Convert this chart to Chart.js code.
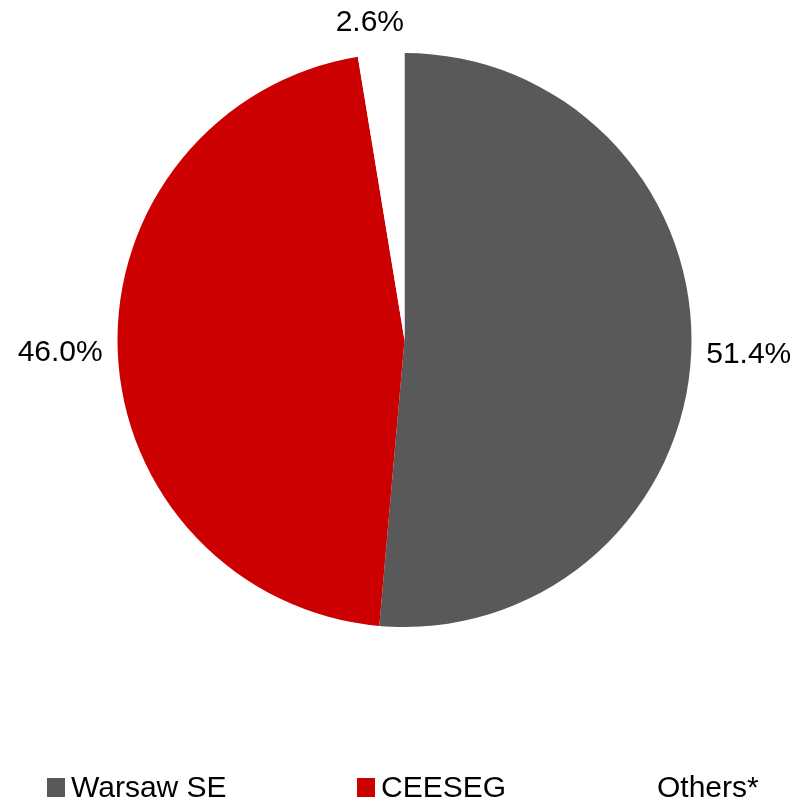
<!DOCTYPE html>
<html>
<head>
<meta charset="utf-8">
<script src="https://cdn.jsdelivr.net/npm/chart.js@4"></script>
<style>
html,body{margin:0;padding:0;background:#fff;}
#wrap{width:796px;height:802px;}
</style>
</head>
<body>
<div id="wrap"><canvas id="c" width="796" height="802"></canvas></div>
<script>
const categories = ["Warsaw SE", "CEESEG", "Others*"];
const shares = [51.4, 46.0, 2.6];
const valueLabels = ["51.4%", "46.0%", "2.6%"];
const colors = ["#595959", "#CC0000", "#FFFFFF"];

const FONT = "Liberation Sans, Arial, sans-serif";

const outLabels = {
  id: "outLabels",
  afterDatasetsDraw(chart) {
    const ctx = chart.ctx;
    const meta = chart.getDatasetMeta(0);
    ctx.save();
    ctx.font = "30px " + FONT;
    ctx.fillStyle = "#000";
    ctx.textBaseline = "middle";
    ctx.textAlign = "center";
    meta.data.forEach((arc, i) => {
      const p = arc.getProps(["x", "y", "startAngle", "endAngle", "outerRadius"], true);
      const mid = (p.startAngle + p.endAngle) / 2;
      const dx = Math.cos(mid), dy = Math.sin(mid);
      const R = p.outerRadius + 15;
      const ax = p.x + dx * R, ay = p.y + dy * R;
      const hw = ctx.measureText(valueLabels[i]).width / 2;
      const k = Math.max(-1, Math.min(1, dx * 3.6));
      ctx.fillText(valueLabels[i], ax + hw * k, ay + 17 * dy + 1);
    });
    ctx.restore();
  }
};

const bottomLegend = {
  id: "bottomLegend",
  afterDraw(chart) {
    const ctx = chart.ctx;
    ctx.save();
    ctx.font = "30px " + FONT;
    ctx.textBaseline = "alphabetic";
    ctx.textAlign = "left";
    const xs = [47, 357, 633];
    categories.forEach((c, i) => {
      ctx.fillStyle = colors[i];
      ctx.fillRect(xs[i], 778, 18, 19);
      ctx.fillStyle = "#000";
      ctx.fillText(c, xs[i] + 24, 797);
    });
    ctx.restore();
  }
};

new Chart(document.getElementById("c"), {
  type: "pie",
  data: {
    labels: categories,
    datasets: [{
      data: shares,
      backgroundColor: colors,
      borderWidth: 0
    }]
  },
  options: {
    responsive: false,
    animation: false,
    layout: { padding: { left: 117, right: 104, top: 53, bottom: 175 } },
    plugins: {
      legend: { display: false },
      tooltip: { enabled: false }
    }
  },
  plugins: [outLabels, bottomLegend]
});
</script>
</body>
</html>
